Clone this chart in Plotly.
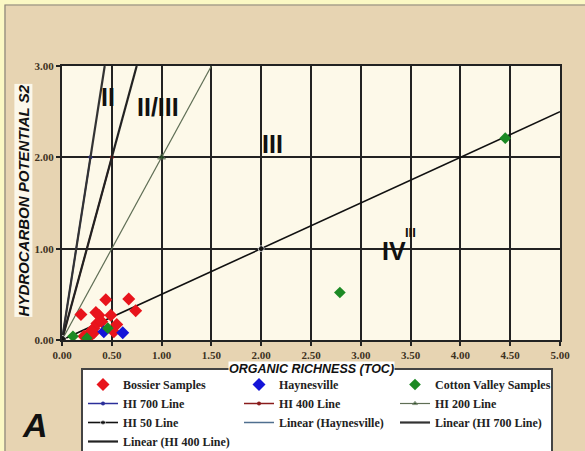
import numpy as np
import plotly.graph_objects as go

# ---- sample data: organic richness (TOC, wt%) vs. S2 (mg HC/g rock) ----
bossier_toc = [0.44, 0.67, 0.74, 0.19, 0.34, 0.37, 0.49, 0.55, 0.35, 0.32, 0.32, 0.27, 0.29, 0.52, 0.22, 0.40, 0.30]
bossier_s2 = [0.44, 0.45, 0.32, 0.28, 0.30, 0.27, 0.27, 0.17, 0.18, 0.13, 0.08, 0.07, 0.05, 0.09, 0.04, 0.20, 0.10]

haynesville_toc = [0.42, 0.61]
haynesville_s2 = [0.09, 0.08]

cotton_valley_toc = [0.11, 0.25, 0.46, 2.79, 4.45]
cotton_valley_s2 = [0.04, 0.02, 0.13, 0.52, 2.21]

# ---- hydrogen-index reference lines (S2 = HI/100 * TOC) ----
hi_700_toc = [0.0, 2 / 7]
hi_700_s2 = [0.0, 2.0]
hi_400_toc = [0.0, 0.5]
hi_400_s2 = [0.0, 2.0]
hi_200_toc = [0.0, 1.0, 1.5]
hi_200_s2 = [0.0, 2.0, 3.0]
hi_50_toc = [0.0, 2.0, 5.0]
hi_50_s2 = [0.0, 1.0, 2.5]

# trend lines running out to the top of the chart
lin_700_toc = [0.0, 3 / 7]
lin_700_s2 = [0.0, 3.0]
lin_400_toc = [0.0, 0.75]
lin_400_s2 = [0.0, 3.0]

# kerogen type zone labels
zone_labels = ["II", "II/III", "III", "IV", "III"]
zone_toc = [0.46, 0.96, 2.11, 3.33, 3.50]
zone_s2 = [2.66, 2.55, 2.15, 0.97, 1.18]
zone_size = [25, 25, 25, 25, 13]

x_ticks = [0.0, 0.5, 1.0, 1.5, 2.0, 2.5, 3.0, 3.5, 4.0, 4.5, 5.0]
y_ticks = [0.0, 1.0, 2.0, 3.0]

fig = go.Figure()

legend_font = dict(family="Liberation Serif", size=12, color="#222222", weight="bold")

# linear fit through the Haynesville samples
fit = np.polyfit(haynesville_toc, haynesville_s2, 1)
hay_fit_x = [min(haynesville_toc), max(haynesville_toc)]
hay_fit_y = list(np.polyval(fit, hay_fit_x))

# lines (drawn underneath the samples)
fig.add_trace(go.Scatter(x=hi_700_toc, y=hi_700_s2, name="HI 700 Line", mode="lines+markers",
                         line=dict(color="#2b2f9a", width=1.5),
                         marker=dict(color="#2b2f9a", size=4, symbol="circle"), legendrank=4))
fig.add_trace(go.Scatter(x=hi_400_toc, y=hi_400_s2, name="HI 400 Line", mode="lines+markers",
                         line=dict(color="#8a1c1c", width=1.5),
                         marker=dict(color="#8a1c1c", size=4, symbol="circle"), legendrank=5))
fig.add_trace(go.Scatter(x=hi_200_toc, y=hi_200_s2, name="HI 200 Line", mode="lines+markers",
                         line=dict(color="#5f6e55", width=1.2),
                         marker=dict(color="#1d4a1d", size=[6, 7, 0], symbol="triangle-up"), legendrank=6))
fig.add_trace(go.Scatter(x=hay_fit_x, y=hay_fit_y, name="Linear (Haynesville)", mode="lines",
                         line=dict(color="#4f6f8f", width=1.5), legendrank=8))
fig.add_trace(go.Scatter(x=lin_700_toc, y=lin_700_s2, name="Linear (HI 700 Line)", mode="lines",
                         line=dict(color="#333333", width=2.2), legendrank=9))
fig.add_trace(go.Scatter(x=lin_400_toc, y=lin_400_s2, name="Linear (HI 400 Line)", mode="lines",
                         line=dict(color="#222222", width=2.2), legendrank=10))
fig.add_trace(go.Scatter(x=hi_50_toc, y=hi_50_s2, name="HI 50 Line", mode="lines+markers",
                         line=dict(color="#111111", width=1.6),
                         marker=dict(color="#111111", size=[9, 6, 0], symbol="circle"), legendrank=7))

# sample points
fig.add_trace(go.Scatter(x=bossier_toc, y=bossier_s2, name="Bossier Samples", mode="markers",
                         marker=dict(color="#e8141c", size=10, symbol="diamond"), legendrank=1))
fig.add_trace(go.Scatter(x=haynesville_toc, y=haynesville_s2, name="Haynesville", mode="markers",
                         marker=dict(color="#1414d8", size=10, symbol="diamond"), legendrank=2))
fig.add_trace(go.Scatter(x=cotton_valley_toc, y=cotton_valley_s2, name="Cotton Valley Samples", mode="markers",
                         marker=dict(color="#1c8a24", size=9, symbol="diamond"), legendrank=3))

for lbl, tx, sy, sz in zip(zone_labels, zone_toc, zone_s2, zone_size):
    fig.add_annotation(x=tx, y=sy, text=lbl, showarrow=False,
                       font=dict(family="Liberation Sans", size=sz, color="#111111", weight="bold"))

axis_common = dict(
    showgrid=True, gridcolor="#222222", gridwidth=1.6,
    showline=True, linecolor="#222222", linewidth=2, mirror=True,
    ticks="outside", ticklen=4, tickcolor="#222222", tickwidth=1.5,
    tickformat=".2f", zeroline=False,
    tickfont=dict(family="Liberation Serif", size=11, color="#3d3222", weight="bold"),
)

fig.update_xaxes(range=[0, 5], tickvals=x_ticks, **axis_common)
fig.update_yaxes(range=[0, 3], tickvals=y_ticks, **axis_common)

# pixel -> paper coordinate helpers
pw, ph = 498, 274
def px_x(v):
    return (v - 62) / pw

def px_y(v):
    return (340 - v) / ph

# axis titles on white strips
fig.add_annotation(xref="paper", yref="paper", x=0.5, y=px_y(368.5), xanchor="center", yanchor="middle",
                   text="ORGANIC RICHNESS (TOC)", showarrow=False, bgcolor="white", borderpad=0,
                   font=dict(family="Liberation Sans", size=12.5, color="#111111", weight="bold", style="italic"))
fig.add_annotation(xref="paper", yref="paper", x=-0.078, y=0.51, xanchor="center", yanchor="middle",
                   textangle=-90, text="HYDROCARBON POTENTIAL S2", showarrow=False,
                   bgcolor="#fbf7ea", borderpad=0,
                   font=dict(family="Liberation Sans", size=15, color="#111111", weight="bold", style="italic"))
fig.add_annotation(xref="paper", yref="paper", x=-0.054, y=-0.31, xanchor="center", yanchor="middle",
                   text="A", showarrow=False,
                   font=dict(family="Liberation Sans", size=34, color="#111111", weight="bold", style="italic"))

# outer pale-yellow frame with a thin grey rule inside it
fig.add_shape(type="rect", xref="paper", yref="paper", layer="below",
              x0=px_x(2), x1=px_x(590), y0=px_y(2), y1=px_y(460),
              line=dict(color="#fbf8c4", width=5), fillcolor="rgba(0,0,0,0)")
fig.add_shape(type="rect", xref="paper", yref="paper", layer="below",
              x0=px_x(5), x1=px_x(590), y0=px_y(5), y1=px_y(460),
              line=dict(color="#8a8578", width=1.2), fillcolor="rgba(0,0,0,0)")

fig.update_layout(
    width=585, height=451,
    margin=dict(l=62, r=25, t=66, b=111, autoexpand=False),
    paper_bgcolor="#e7d4b2",
    plot_bgcolor="#fdf9e9",
    showlegend=True,
    legend=dict(
        orientation="h", x=px_x(81), xanchor="left", y=px_y(368), yanchor="top",
        bgcolor="white", bordercolor="#444444", borderwidth=2,
        font=legend_font, entrywidth=111, entrywidthmode="pixels", itemwidth=30,
        traceorder="normal", itemsizing="trace",
    ),
)

fig.write_html("out.html")
